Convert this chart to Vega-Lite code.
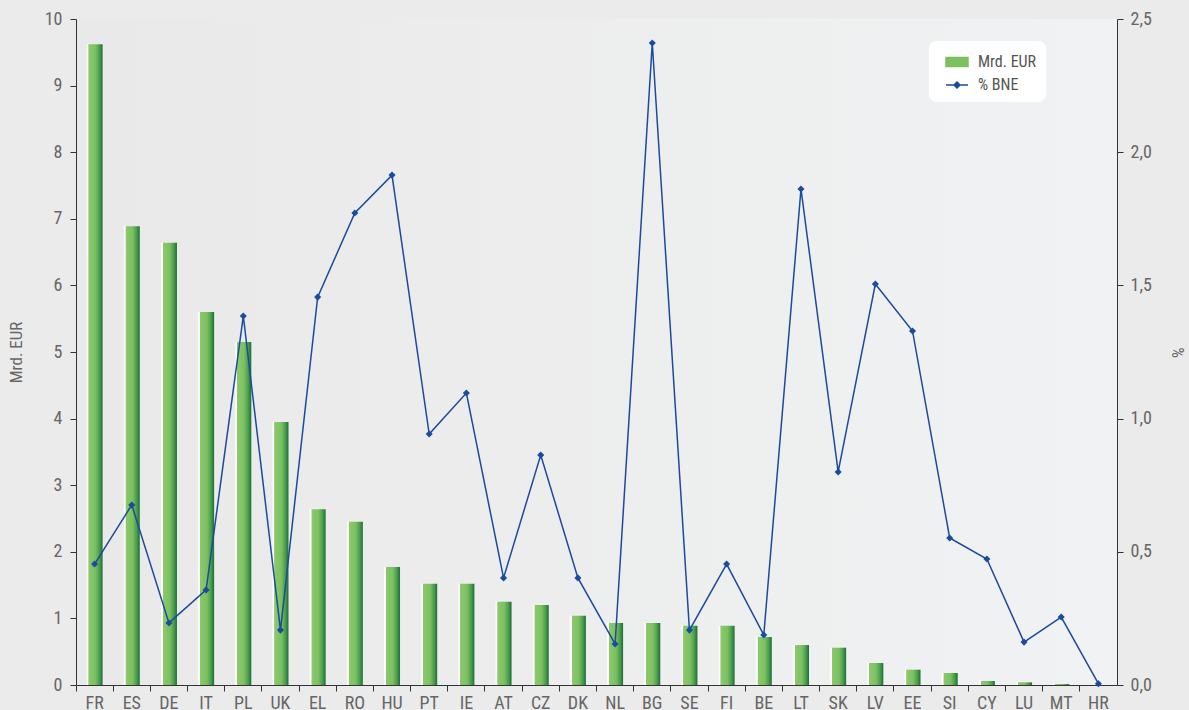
{
  "$schema": "https://vega.github.io/schema/vega-lite/v6.json",
  "width": 1041,
  "height": 666,
  "autosize": "none",
  "padding": {"left": 76, "top": 19, "right": 72, "bottom": 25},
  "background": "#ebebeb",
  "config": {
    "font": "Liberation Sans Narrow, Roboto Condensed, DejaVu Sans Condensed, sans-serif",
    "view": {
      "stroke": null,
      "fill": {"gradient": "linear", "x1": 0, "x2": 1, "y1": 0, "y2": 0,
        "stops": [{"offset": 0, "color": "#e9e9e9"}, {"offset": 1, "color": "#f1f2f3"}]}
    },
    "axis": {
      "domainColor": "#333333",
      "tickColor": "#333333",
      "labelColor": "#666666",
      "titleColor": "#666666",
      "labelFontSize": 18,
      "titleFontSize": 17,
      "titleFontWeight": "normal",
      "grid": false,
      "tickSize": 6
    }
  },
  "data": {
    "values": [
      {"pays": "FR", "mrd": 9.62, "bne": 0.454},
      {"pays": "ES", "mrd": 6.89, "bne": 0.676},
      {"pays": "DE", "mrd": 6.64, "bne": 0.233},
      {"pays": "IT", "mrd": 5.60, "bne": 0.357},
      {"pays": "PL", "mrd": 5.15, "bne": 1.385},
      {"pays": "UK", "mrd": 3.95, "bne": 0.206},
      {"pays": "EL", "mrd": 2.64, "bne": 1.456},
      {"pays": "RO", "mrd": 2.45, "bne": 1.772},
      {"pays": "HU", "mrd": 1.77, "bne": 1.914},
      {"pays": "PT", "mrd": 1.52, "bne": 0.942},
      {"pays": "IE", "mrd": 1.52, "bne": 1.096},
      {"pays": "AT", "mrd": 1.25, "bne": 0.402},
      {"pays": "CZ", "mrd": 1.20, "bne": 0.863},
      {"pays": "DK", "mrd": 1.04, "bne": 0.402},
      {"pays": "NL", "mrd": 0.93, "bne": 0.154},
      {"pays": "BG", "mrd": 0.93, "bne": 2.41},
      {"pays": "SE", "mrd": 0.89, "bne": 0.206},
      {"pays": "FI", "mrd": 0.89, "bne": 0.454},
      {"pays": "BE", "mrd": 0.72, "bne": 0.188},
      {"pays": "LT", "mrd": 0.60, "bne": 1.862},
      {"pays": "SK", "mrd": 0.56, "bne": 0.80},
      {"pays": "LV", "mrd": 0.33, "bne": 1.505},
      {"pays": "EE", "mrd": 0.23, "bne": 1.329},
      {"pays": "SI", "mrd": 0.18, "bne": 0.552},
      {"pays": "CY", "mrd": 0.06, "bne": 0.473},
      {"pays": "LU", "mrd": 0.04, "bne": 0.161},
      {"pays": "MT", "mrd": 0.015, "bne": 0.255},
      {"pays": "HR", "mrd": 0.0, "bne": 0.005}
    ]
  },
  "layer": [
    {
      "mark": {"type": "bar", "size": 16},
      "encoding": {
        "x": {
          "field": "pays", "type": "nominal", "sort": null,
          "scale": {"paddingInner": 0, "paddingOuter": 0},
          "axis": {"title": null, "labelAngle": 0, "labelPadding": 3, "bandPosition": 0}
        },
        "y": {
          "field": "mrd", "type": "quantitative",
          "scale": {"domain": [0, 10], "nice": false},
          "axis": {"title": "Mrd. EUR", "values": [0,1,2,3,4,5,6,7,8,9,10], "labelPadding": 8, "titleX": -51}
        },
        "fill": {
          "value": {"gradient": "linear", "x1": 0, "x2": 1, "y1": 0, "y2": 0,
            "stops": [
              {"offset": 0, "color": "#ffffff"},
              {"offset": 0.1, "color": "#ffffff"},
              {"offset": 0.13, "color": "#8dc96b"},
              {"offset": 0.55, "color": "#7cc062"},
              {"offset": 0.8, "color": "#4a9e4e"},
              {"offset": 1, "color": "#1d6e35"}
            ]}
        }
      }
    },
    {
      "mark": {"type": "line", "strokeWidth": 1.5, "point": {"shape": "diamond", "size": 50, "filled": true, "opacity": 1}},
      "encoding": {
        "x": {"field": "pays", "type": "nominal", "sort": null},
        "y": {
          "field": "bne", "type": "quantitative",
          "scale": {"domain": [0, 2.5], "nice": false},
          "axis": {
            "orient": "right", "title": "%",
            "values": [0, 0.5, 1, 1.5, 2, 2.5],
            "labelExpr": "replace(format(datum.value, '.1f'), '.', ',')",
            "labelPadding": 7,
            "titleX": 50
          }
        },
        "color": {
          "datum": "% BNE",
          "scale": {"domain": ["Mrd. EUR", "% BNE"], "range": ["#7cc062", "#1a4b9f"]},
          "legend": {
            "title": null,
            "orient": "none",
            "legendX": 853,
            "legendY": 22,
            "fillColor": "#ffffff",
            "cornerRadius": 8,
            "padding": 9,
            "symbolOffset": 7,
            "rowPadding": 3,
            "symbolSize": 484,
            "labelFontSize": 16,
            "labelColor": "#555555",
            "labelOffset": 9,
            "labelExpr": "datum.label + '\u2003\u2003'",
            "encode": {
              "symbols": {
                "update": {
                  "shape": [
                    {"test": "datum.value === 'Mrd. EUR'", "value": "M-1,-0.4H1V0.4H-1Z"},
                    {"value": "M-1,0H1M0,-0.27L0.27,0L0,0.27L-0.27,0Z"}
                  ],
                  "fill": [
                    {"test": "datum.value === 'Mrd. EUR'", "value": {"gradient": "linear", "x1": 0, "x2": 1, "y1": 0, "y2": 0,
                      "stops": [{"offset": 0, "color": "#8dc96b"}, {"offset": 0.55, "color": "#7cc062"}, {"offset": 0.8, "color": "#4a9e4e"}, {"offset": 1, "color": "#1d6e35"}]}},
                    {"value": "#1a4b9f"}
                  ],
                  "stroke": [
                    {"test": "datum.value === 'Mrd. EUR'", "value": null},
                    {"value": "#1a4b9f"}
                  ],
                  "strokeWidth": {"value": 1.5},
                  "opacity": {"value": 1}
                }
              }
            }
          }
        }
      }
    }
  ],
  "resolve": {"scale": {"y": "independent"}}
}
